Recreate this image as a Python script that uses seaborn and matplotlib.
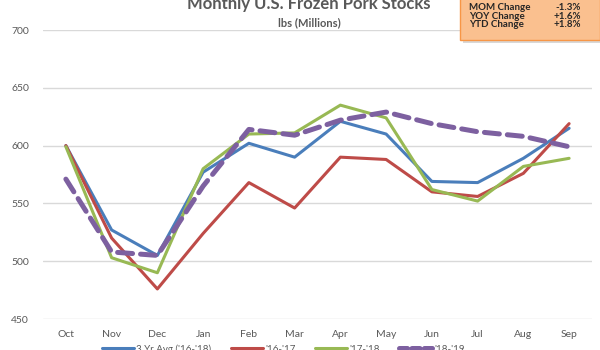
import matplotlib
matplotlib.use("Agg")
import matplotlib.pyplot as plt
import seaborn as sns
import pandas as pd
from matplotlib.patches import FancyBboxPatch
from matplotlib.lines import Line2D

months = ["Oct", "Nov", "Dec", "Jan", "Feb", "Mar", "Apr", "May", "Jun", "Jul", "Aug", "Sep"]
avg3 = [600, 527, 505, 577, 602, 590, 621, 610, 569, 568, 589, 615]
y1617 = [600, 520, 476, 524, 568, 546, 590, 588, 560, 556, 576, 619]
y1718 = [599, 503, 490, 580, 610, 611, 635, 624, 562, 552, 582, 589]
y1819 = [571, 508, 505, 565, 614, 609, 622, 629, 619, 612, 608, 599]
series_names = ["3 Yr Avg ('16-'18)", "'16-'17", "'17-'18", "'18-'19"]
yticks = [450, 500, 550, 600, 650, 700]
box_labels = ["MOM Change", "YOY Change", "YTD Change"]
box_values = ["-1.3%", "+1.6%", "+1.8%"]

sns.set_theme(style="white")
plt.rcParams["font.family"] = ["Lato", "DejaVu Sans"]

rows = []
for name, vals in zip(series_names, [avg3, y1617, y1718, y1819]):
    for m, v in zip(months, vals):
        rows.append({"Month": m, "Value": v, "Series": name})
df = pd.DataFrame(rows)

colors = ["#4A7EBB", "#BE4B48", "#98B954", "#7D60A0"]
palette = dict(zip(series_names, colors))

fig = plt.figure(figsize=(6, 3.5), dpi=100)
ax = fig.add_axes([43/600, 1-319/350, (592-43)/600, (319-30)/350])

sns.lineplot(data=df, x="Month", y="Value", hue="Series", palette=palette,
             sort=False, ax=ax, legend=False, linewidth=2.2)
lines = ax.get_lines()
lines[3].set_linestyle((0, (3, 1.6)))
lines[3].set_linewidth(3.6)
for ln in lines:
    ln.set_solid_capstyle("round")
    ln.set_dash_capstyle("round")

ax.set_xlim(-0.5, 11.5)
ax.set_ylim(450, 700)
ax.set_yticks(yticks)
ax.set_yticklabels([str(t) for t in yticks])
ax.set_xlabel("")
ax.set_ylabel("")
ax.grid(axis="y", color="#D9D9D9", linewidth=1)
ax.grid(axis="x", visible=False)
for s in ax.spines.values():
    s.set_visible(False)
ax.tick_params(axis="both", length=0, labelsize=7.5, colors="#595959")
ax.tick_params(axis="y", pad=10)
ax.tick_params(axis="x", pad=8)
ax.set_axisbelow(True)

handles = []
for i, name in enumerate(series_names):
    if i == 3:
        handles.append(Line2D([], [], color=colors[i], linewidth=3.6,
                              linestyle=(0, (1.6, 0.9)), dash_capstyle="round"))
    else:
        handles.append(Line2D([], [], color=colors[i], linewidth=2.2))
fig.legend(handles, series_names, loc="center", bbox_to_anchor=(283/600, 1-349/350),
           ncol=4, frameon=False, fontsize=7, handlelength=3.3, handletextpad=0.25,
           columnspacing=2.0, labelcolor="#595959")

fig.text(0.515, 1-9/350, "Monthly U.S. Frozen Pork Stocks", ha="center", va="baseline",
         fontsize=12, fontweight="bold", color="#595959")
fig.text(0.515, 1-23/350, "lbs (Millions)", ha="center", va="center",
         fontsize=8, fontweight="bold", color="#595959")

shadow = FancyBboxPatch((463/600, 1-43/350), 140/600, 50/350, boxstyle="square,pad=0",
                        transform=fig.transFigure, facecolor="#BFBFBF", edgecolor="none",
                        alpha=0.6, zorder=4)
fig.patches.append(shadow)
box = FancyBboxPatch((460/600, 1-40/350), 140/600, 46/350, boxstyle="square,pad=0",
                     transform=fig.transFigure, facecolor="#FAC08F", edgecolor="#F79646",
                     linewidth=1, zorder=5)
fig.patches.append(box)
for i, (lab, val) in enumerate(zip(box_labels, box_values)):
    yy = 1 - (7.5 + 8.6 * i) / 350
    fig.text(469/600, yy, lab, ha="left", va="center", fontsize=7, fontweight="bold",
             color="#262626", zorder=6)
    fig.text(581/600, yy, val, ha="right", va="center", fontsize=7, fontweight="bold",
             color="#262626", zorder=6)

fig.savefig("out.png", dpi=100)
